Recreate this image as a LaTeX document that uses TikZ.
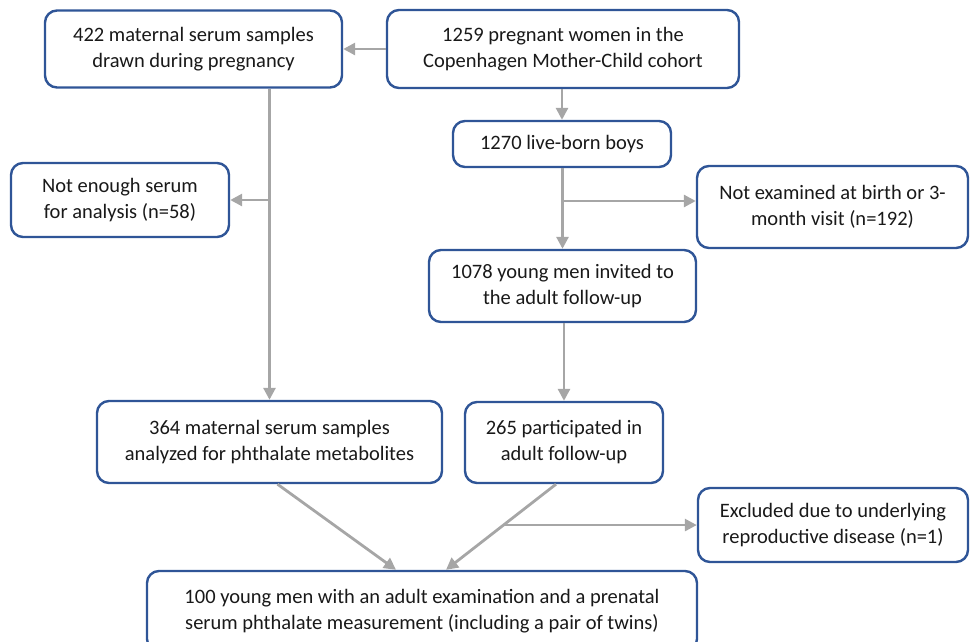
\documentclass[tikz,border=0pt]{standalone}
\usepackage{fontspec}
\setmainfont{Carlito}
\usetikzlibrary{arrows.meta,calc}
\definecolor{boxblue}{RGB}{47,85,151}
\definecolor{arrgray}{RGB}{166,166,166}
\begin{document}
\begin{tikzpicture}[x=1pt,y=-1pt,
  box/.style={draw=boxblue,line width=2.4pt,rounded corners=12pt,fill=white,
    align=center,inner sep=0pt,font=\fontsize{20.5}{26}\selectfont,text=black!90},
  arr/.style={draw=arrgray,line width=2.8pt,-{Triangle[length=12pt,width=12pt]}},
  ln/.style={draw=arrgray,line width=2.8pt}]
\useasboundingbox (0,0) rectangle (979,641);
\clip (0,0) rectangle (979,641);
\node[box,minimum width=297pt,minimum height=77pt] (A) at (193.5,49) {422 maternal serum samples\\drawn during pregnancy};
\node[box,minimum width=352pt,minimum height=78pt] (B) at (563,49) {1259 pregnant women in the\\Copenhagen Mother-Child cohort};
\node[box,minimum width=218pt,minimum height=46pt] (C) at (562,144) {1270 live-born boys};
\node[box,minimum width=218pt,minimum height=74pt] (D) at (120,200) {Not enough serum\\for analysis (n=58)};
\node[box,minimum width=271pt,minimum height=82pt] (E) at (832.5,207) {Not examined at birth or 3-\\month visit (n=192)};
\node[box,minimum width=267pt,minimum height=72pt] (F) at (562.5,286) {1078 young men invited to\\the adult follow-up};
\node[box,minimum width=345pt,minimum height=82pt] (G) at (269.5,442) {364 maternal serum samples\\analyzed for phthalate metabolites};
\node[box,minimum width=198pt,minimum height=81pt] (H) at (564,442.5) {265 participated in\\adult follow-up};
\node[box,minimum width=270pt,minimum height=74pt] (I) at (833,525) {Excluded due to underlying\\reproductive disease (n=1)};
\node[box,minimum width=550pt,minimum height=80pt] (J) at (422,611) {100 young men with an adult examination and a prenatal\\serum phthalate measurement (including a pair of twins)};
% connectors
\draw[arr] (B.west) -- (A.east);
\draw[arr] (C.north |- B.south) -- (C.north);
\draw[arr] (A.south -| G.north) -- (G.north);
\coordinate (d1) at (G.north |- D.east);
\draw[arr] (d1) -- (D.east);
\draw[arr] (C.south -| F.north) -- (F.north);
\coordinate (c1) at (562.5,201);
\draw[arr] (c1) -- (c1 -| E.west);
\draw[arr] (F.south -| H.north) -- (H.north);
\coordinate (g1) at ($(G.south)+(8,0)$);
\coordinate (j1) at ($(J.north)+(-26,0)$);
\draw[arr] (g1) -- (j1);
\coordinate (h1) at ($(H.south)+(-8,0)$);
\coordinate (j2) at ($(J.north)+(24,0)$);
\draw[arr] (h1) -- (j2);
\coordinate (k1) at ($(h1)!0.477!(j2)$);
\draw[arr] (k1) -- (k1 -| I.west);
\end{tikzpicture}
\end{document}
